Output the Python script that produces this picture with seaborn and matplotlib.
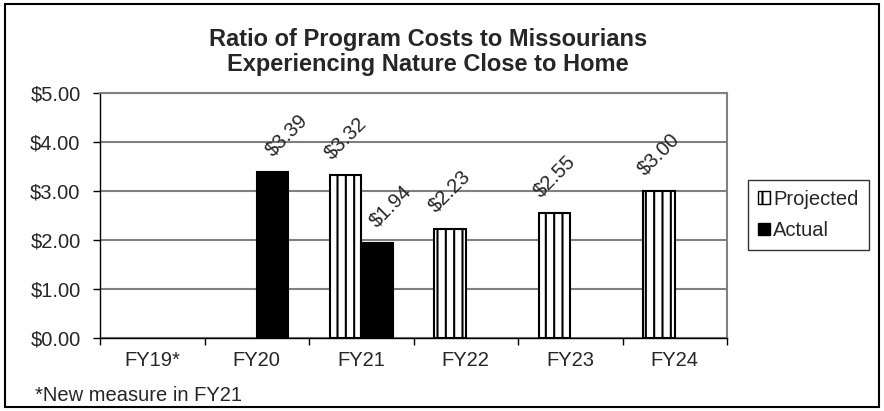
import pandas as pd
import numpy as np
import matplotlib
matplotlib.use("Agg")
import matplotlib.pyplot as plt
import seaborn as sns
from matplotlib.patches import Patch, Rectangle
from matplotlib.ticker import FuncFormatter, FixedLocator

# data
years = ["FY19*", "FY20", "FY21", "FY22", "FY23", "FY24"]
projected = [np.nan, np.nan, 3.32, 2.23, 2.55, 3.00]
actual = [np.nan, 3.39, 1.94, np.nan, np.nan, np.nan]
series = ["Projected", "Actual"]

df = pd.DataFrame({
    "year": years * 2,
    "value": projected + actual,
    "series": ["Projected"] * len(years) + ["Actual"] * len(years),
})

sns.set_style("white")
plt.rcParams["font.family"] = ["Liberation Sans", "DejaVu Sans"]
plt.rcParams["hatch.linewidth"] = 1.5

fs = 14.5

fig = plt.figure(figsize=(8.84, 4.11), dpi=100)
ax = fig.add_axes([100 / 884, 73 / 411, 627 / 884, 245 / 411])

sns.barplot(data=df, x="year", y="value", hue="series", order=years,
            hue_order=series, palette=["white", "black"], saturation=1,
            edgecolor="black", linewidth=1.5, width=0.6, ax=ax,
            legend=False, zorder=3)

# vertical stripes on the projected bars
for bar in ax.containers[0]:
    bar.set_hatch("||")

# rotated value labels
for i, cont in enumerate(ax.containers):
    dx = 0 if i == 0 else 10
    for bar in cont:
        h = bar.get_height()
        if np.isnan(h) or h == 0:
            continue
        ax.annotate(f"${h:.2f}", (bar.get_x() + bar.get_width() / 2, h),
                    xytext=(dx, 9), textcoords="offset points",
                    rotation=45, ha="center", va="bottom", fontsize=fs,
                    zorder=4)

ax.set_ylim(0, 5)
ax.set_xlim(-0.5, 5.5)
ax.yaxis.set_major_locator(FixedLocator([0, 1, 2, 3, 4, 5]))
ax.yaxis.set_major_formatter(FuncFormatter(lambda v, p: f"${v:.2f}"))
ax.yaxis.grid(True, color="#808080", linewidth=1.5, zorder=0)
ax.set_axisbelow(True)

# category boundaries as ticks, labels centered
ax.set_xticks(np.arange(-0.5, 6, 1))
ax.set_xticklabels([])
ax.set_xticks(range(len(years)), minor=True)
ax.set_xticklabels(years, minor=True)
ax.tick_params(axis="x", which="major", length=5, width=1, color="black", direction="out")
ax.tick_params(axis="x", which="minor", length=0, pad=9, labelsize=fs)
ax.tick_params(axis="y", length=5, width=1, color="black", direction="out", labelsize=fs, pad=9)
ax.tick_params(left=True, bottom=True)

ax.set_xlabel("")
ax.set_ylabel("")
for side in ["top", "right"]:
    ax.spines[side].set_color("#808080")
    ax.spines[side].set_linewidth(1.5)
for side in ["left", "bottom"]:
    ax.spines[side].set_color("black")
    ax.spines[side].set_linewidth(1)

fig.text(428 / 884, 1 - 52 / 411, "Ratio of Program Costs to Missourians\nExperiencing Nature Close to Home",
         ha="center", va="center", fontsize=17, fontweight="bold", linespacing=1.15)

handles = [Patch(facecolor="white", edgecolor="black", hatch="||", linewidth=1),
           Patch(facecolor="black", edgecolor="black")]
leg = fig.legend(handles, series, loc="center left", bbox_to_anchor=(748 / 884, 1 - 215 / 411),
                 fontsize=fs, frameon=True, fancybox=False, edgecolor="black",
                 handlelength=0.6, handleheight=0.6, handletextpad=0.15,
                 labelspacing=0.6, borderpad=0.5, borderaxespad=0)
leg.get_frame().set_linewidth(1)

fig.text(35 / 884, 1 - 395 / 411, "*New measure in FY21", ha="left", va="center", fontsize=fs)

fig.patches.append(Rectangle((5 / 884, 4 / 411), 874 / 884, 403 / 411, fill=False,
                             edgecolor="black", linewidth=1.5, transform=fig.transFigure))

fig.savefig("out.png", dpi=100)
